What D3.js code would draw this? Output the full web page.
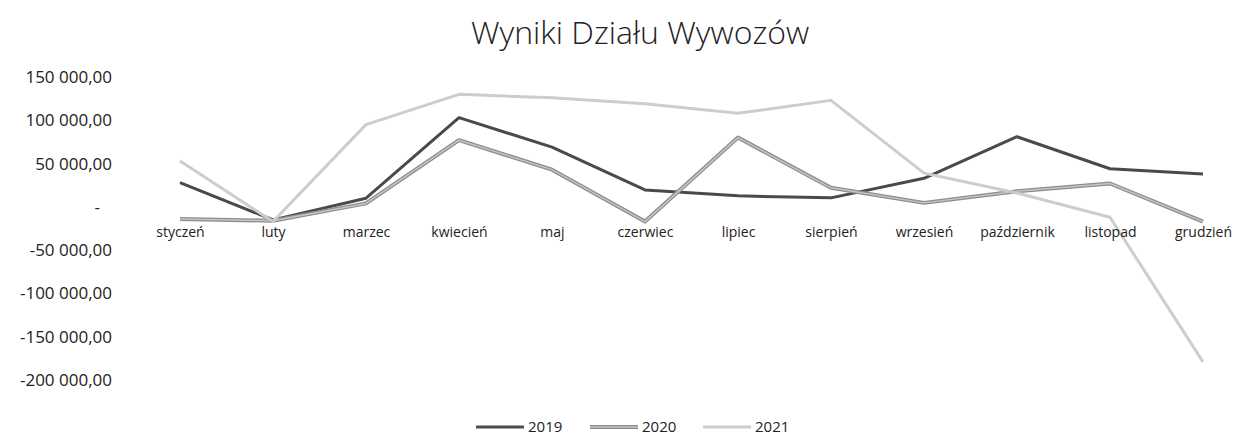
<!DOCTYPE html>
<html>
<head>
<meta charset="utf-8">
<title>Wyniki Działu Wywozów</title>
<script src="https://d3js.org/d3.v7.min.js"></script>
<style>
  body { margin: 0; background: #fff; }
  text { font-family: "Open Sans", "Noto Sans", sans-serif; fill: #222; }
</style>
</head>
<body>
<div id="chart"></div>
<script>
// data
var months = ["styczeń", "luty", "marzec", "kwiecień", "maj", "czerwiec", "lipiec",
              "sierpień", "wrzesień", "październik", "listopad", "grudzień"]
var v2019 = [28000, -15000, 10000, 103000, 69000, 19600, 12700, 10400, 33000, 81000, 44000, 38000]
var v2020 = [-14000, -16000, 4000, 77000, 43000, -17000, 80000, 22000, 4600, 18000, 27000, -17000]
var v2021 = [53000, -17000, 95000, 130000, 126000, 119000, 108000, 123000, 39000, 16000, -12000, -179000]
var yTicks = [150000, 100000, 50000, 0, -50000, -100000, -150000, -200000]

var series = [
  { name: "2019", values: v2019, color: "#4a4a4a", width: 3, inner: null },
  { name: "2020", values: v2020, color: "#8e8e8e", width: 4, inner: "#c4c4c4" },
  { name: "2021", values: v2021, color: "#cdcdcd", width: 3, inner: null }
]

var width = 1240, height = 438

var svg = d3.select("#chart").append("svg")
  .attr("width", width)
  .attr("height", height)

// polish number format
var pl = d3.formatLocale({ decimal: ",", thousands: "\u00a0", grouping: [3], currency: ["", ""], minus: "-" })
var fmt = pl.format(",.2f")

var x = d3.scalePoint().domain(months).range([180, 1203])
var y = d3.scaleLinear().domain([-200000, 150000]).range([380, 77])

// title
svg.append("text")
  .attr("x", 640).attr("y", 44)
  .attr("text-anchor", "middle")
  .style("font-size", "32px")
  .style("font-weight", 300)
  .text("Wyniki Działu Wywozów")

// y axis labels
var yAxis = svg.append("g")
  .attr("transform", "translate(112,0)")
  .call(d3.axisLeft(y).tickValues(yTicks).tickSize(0).tickPadding(0)
    .tickFormat(function(d) { return d === 0 ? "-" : fmt(d) }))
yAxis.select(".domain").remove()
yAxis.selectAll("text")
  .style("font-size", "17px")
  .style("font-family", "'Open Sans', sans-serif")
  .attr("fill", "#222")
  .attr("dx", function(d) { return d === 0 ? -12 : 0 })

// lines
var line = d3.line()
  .x(function(d, i) { return x(months[i]) })
  .y(function(d) { return y(d) })

svg.selectAll(".series")
  .data(series)
  .enter().append("path")
  .attr("class", "series")
  .attr("fill", "none")
  .attr("stroke", function(d) { return d.color })
  .attr("stroke-width", function(d) { return d.width })
  .attr("stroke-linejoin", "round")
  .attr("d", function(d) { return line(d.values) })

// lighter core of the 2020 line
svg.selectAll(".core")
  .data(series.filter(function(d) { return d.inner }))
  .enter().append("path")
  .attr("class", "core")
  .attr("fill", "none")
  .attr("stroke", function(d) { return d.inner })
  .attr("stroke-width", 1.5)
  .attr("stroke-linejoin", "round")
  .attr("d", function(d) { return line(d.values) })

// x axis labels (below the zero line)
var xAxis = svg.append("g")
  .attr("transform", "translate(0," + (y(0) + 20) + ")")
  .call(d3.axisBottom(x).tickSize(0).tickPadding(0))
xAxis.select(".domain").remove()
xAxis.selectAll("text")
  .style("font-size", "14px")
  .style("font-family", "'Open Sans', sans-serif")
  .attr("fill", "#222")

// legend
var legendX = [476, 590, 703]
var legend = svg.selectAll(".legend")
  .data(series)
  .enter().append("g")
  .attr("class", "legend")
  .attr("transform", function(d, i) { return "translate(" + legendX[i] + ",427)" })
legend.append("line")
  .attr("x1", 0).attr("x2", 48)
  .attr("stroke", function(d) { return d.color })
  .attr("stroke-width", function(d) { return d.width })
legend.filter(function(d) { return d.inner }).append("line")
  .attr("x1", 0).attr("x2", 48)
  .attr("stroke", function(d) { return d.inner })
  .attr("stroke-width", 1.5)
legend.append("text")
  .attr("x", 52).attr("y", 5)
  .style("font-size", "15px")
  .text(function(d) { return d.name })
</script>
</body>
</html>
